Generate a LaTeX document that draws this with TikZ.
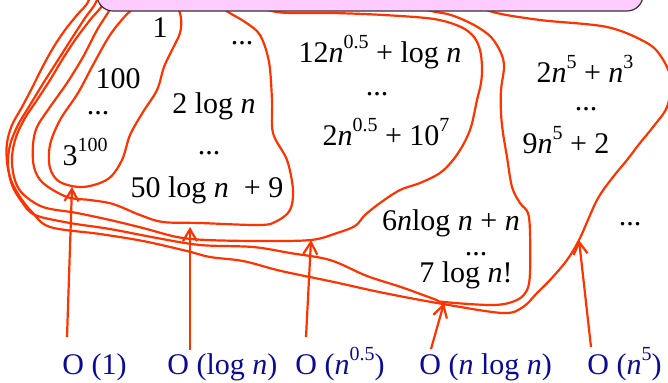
\documentclass[tikz,border=0pt]{standalone}
\usepackage{fontspec}
\setmainfont{Liberation Serif}
\usetikzlibrary{arrows.meta}
\definecolor{blobred}{RGB}{255,51,0}
\definecolor{ordblue}{RGB}{10,10,150}
\definecolor{boxpink}{RGB}{255,204,255}
\newcommand{\pw}[1]{\raisebox{0.45em}{\fontsize{10}{12}\selectfont #1}}

\begin{document}
\begin{tikzpicture}[x=0.5pt, y=-0.5pt, >={Straight Barb[length=6pt,width=7pt]},
  every node/.style={font=\fontsize{15}{18}\selectfont, inner sep=0pt},
  blob/.style={draw=blobred, line width=1.1pt, line join=round},
  term/.style={anchor=base},
  order/.style={anchor=base west, text=ordblue},
  arr/.style={->, draw=blobred, line width=1.1pt}]
\useasboundingbox (0,0) rectangle (668,382);
\clip (0,0) rectangle (668,382);
% classes, innermost first
\draw[blob] plot[smooth cycle, tension=0.55] coordinates {(140,2) (127,14) (110,35) (93,65) (78,93) (60,120) (50,145) (50,168) (60,182) (83,187) (108,179) (122,160) (130,135) (143,112) (157,90) (164,67) (172,50) (180,33) (181,18) (177,2) (175,-25) (145,-25)};
\draw[blob] plot[smooth cycle, tension=0.55] coordinates {(113,3) (97,30) (83,57) (67,83) (50,107) (37,127) (33,145) (34,167) (43,183) (67,197) (90,200) (113,204) (140,215) (163,222) (200,223) (260,225) (277,221) (290,210) (293,190) (287,160) (273,133) (272,100) (269,62) (260,35) (245,22) (225,10) (215,0) (210,-25) (118,-25)};
\draw[blob] plot[smooth cycle, tension=0.55] coordinates {(104,2) (90,20) (75,40) (62,60) (50,80) (37,100) (25,118) (16,137) (12,157) (14,177) (22,193) (43,207) (77,213) (110,220) (143,228) (177,237) (207,240) (260,241) (311,240) (337,233) (355,226) (365,215) (380,203) (400,190) (420,183) (440,173) (453,160) (463,145) (471,127) (477,100) (481,83) (482,67) (480,50) (474,37) (461,27) (434,19) (384,15) (334,13) (277,12) (250,0) (245,-25) (108,-25)};
\draw[blob] plot[smooth cycle, tension=0.55] coordinates {(97,0) (85,18) (72,38) (58,60) (44,82) (30,105) (18,125) (10,145) (8,165) (12,185) (22,202) (35,215) (70,223) (110,229) (157,238) (200,245) (253,247) (290,253) (330,260) (367,276) (401,287) (434,299) (444,302) (494,305) (517,300) (527,290) (530,273) (530,233) (528,213) (520,203) (512,187) (507,157) (503,133) (501,113) (501,90) (504,67) (501,53) (491,37) (474,25) (451,15) (427,10) (400,0) (395,-25) (100,-25)};
\draw[blob] plot[smooth cycle, tension=0.55] coordinates {(89,0) (77,15) (65,30) (53,48) (42,68) (32,88) (22,107) (12,125) (7,143) (7,162) (11,180) (20,197) (32,212) (50,227) (100,234) (143,241) (187,251) (210,257) (243,261) (277,270) (300,275) (334,282) (384,293) (443,304) (503,313) (523,307) (537,293) (550,280) (567,260) (580,238) (597,200) (613,177) (627,160) (640,143) (653,127) (667,107) (671,80) (662,58) (647,43) (607,27) (540,20) (493,12) (470,0) (465,-25) (92,-25)};
% heading box, cut by the page edge
\draw[fill=boxpink, draw=black!80, line width=0.6pt, rounded corners=8pt] (97,-40) rectangle (643,11);
% functions
\node[term] (one) at (160,37) {1};
\node[term] (hundred) at (118,88) {100};
\node[term] (dotsa) at (98,114) {...};
\node[term] (threeh) at (85,165) {3\pw{100}};
\node[term] (dotsb) at (242,44) {...};
\node[term] (twolog) at (214,113) {2 log \textit{n}};
\node[term] (dotsc) at (209,154) {...};
\node[term] (fiftylog) at (207,197) {50 log \textit{n}\ \ + 9};
\node[term] (twelve) at (380,62) {12\textit{n}\pw{0.5} + log \textit{n}};
\node[term] (dotsd) at (377,95) {...};
\node[term] (tworoot) at (386,145) {2\textit{n}\pw{0.5} + 10\pw{7}};
\node[term] (twofive) at (585,82) {2\textit{n}\pw{5} + \textit{n}\pw{3}};
\node[term] (dotse) at (586,110) {...};
\node[term] (ninefive) at (566,153) {9\textit{n}\pw{5} + 2};
\node[term] (sixn) at (451,230) {6\textit{n}log \textit{n} + \textit{n}};
\node[term] (dotsf) at (476,255) {...};
\node[term] (sevenlog) at (466,282) {7 log \textit{n}!};
\node[term] (dotsg) at (630,225) {...};
% orders
\node[order] (oone) at (62,374) {O (1)};
\node[order] (olog) at (167,374) {O (log \textit{n})};
\node[order] (oroot) at (295,374) {O (\textit{n}\pw{0.5})};
\node[order] (onlog) at (419,374) {O (\textit{n} log \textit{n})};
\node[order] (opoly) at (587,374) {O (\textit{n}\pw{5})};
\coordinate (tone) at (72,187);
\coordinate (tlog) at (190,227);
\coordinate (troot) at (311,240);
\coordinate (tnlog) at (444,303);
\coordinate (tpoly) at (579,240);
\draw[arr] ([shift={(5,-37)}]oone.base west) -- (tone);
\draw[arr] ([shift={(23,-24)}]olog.base west) -- (tlog);
\draw[arr] ([shift={(11,-37)}]oroot.base west) -- (troot);
\draw[arr] ([shift={(12,-25)}]onlog.base west) -- (tnlog);
\draw[arr] ([shift={(4,-27)}]opoly.base west) -- (tpoly);
\end{tikzpicture}
\end{document}
